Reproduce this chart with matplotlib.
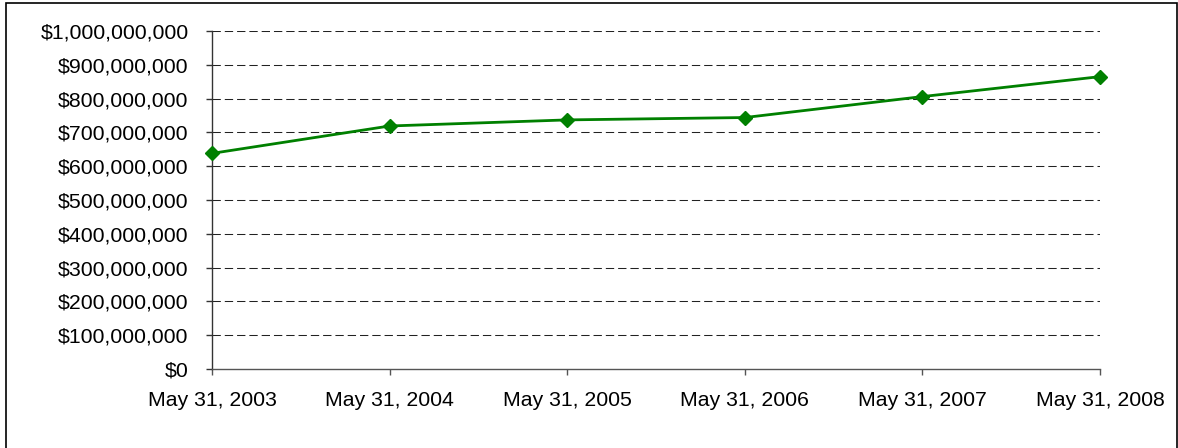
import matplotlib.pyplot as plt
from matplotlib.patches import Rectangle
from matplotlib.ticker import FuncFormatter

# Year-end values
dates = ['May 31, 2003', 'May 31, 2004', 'May 31, 2005',
         'May 31, 2006', 'May 31, 2007', 'May 31, 2008']
values = [638e6, 719e6, 737e6, 744e6, 806e6, 865e6]
y_ticks = [i * 100e6 for i in range(11)]

plt.rcParams['font.family'] = ['Liberation Sans', 'DejaVu Sans']
plt.rcParams['font.size'] = 15.3

fig = plt.figure(figsize=(11.78, 4.48), dpi=100)
ax = fig.add_axes([0.18, 0.1763, 0.9338 - 0.18, 0.9308 - 0.1763])

x = list(range(len(dates)))
ax.plot(x, values, color='#008000', lw=2, marker='D', ms=7.2,
        markeredgecolor='#008000', zorder=3, clip_on=False)

ax.set_xlim(0, len(dates) - 1)
ax.set_ylim(0, 1e9)
ax.set_xticks(x)
ax.set_xticklabels(dates)
ax.set_yticks(y_ticks)
ax.yaxis.set_major_formatter(FuncFormatter(lambda v, p: f'${v:,.0f}'))

# dashed horizontal gridlines
for v in y_ticks[1:]:
    ax.axhline(v, color='#222222', lw=0.75, linestyle=(0, (8, 3.8)), zorder=1)

for s in ['top', 'right']:
    ax.spines[s].set_visible(False)
ax.spines['left'].set_color('#333333')
ax.spines['bottom'].set_color('#555555')
ax.spines['left'].set_linewidth(1)
ax.spines['bottom'].set_linewidth(1)
ax.tick_params(axis='y', direction='out', length=4, width=1, color='#333333', pad=13)
ax.tick_params(axis='x', direction='out', length=4, width=1, color='#555555', pad=12)

# outer frame
fig.patches.append(Rectangle((6 / 1178, -0.05), (1177 - 6) / 1178, 1.05 - 3 / 448,
                             transform=fig.transFigure, fill=False,
                             edgecolor='black', lw=1.2))

fig.savefig('out.png', dpi=100)
